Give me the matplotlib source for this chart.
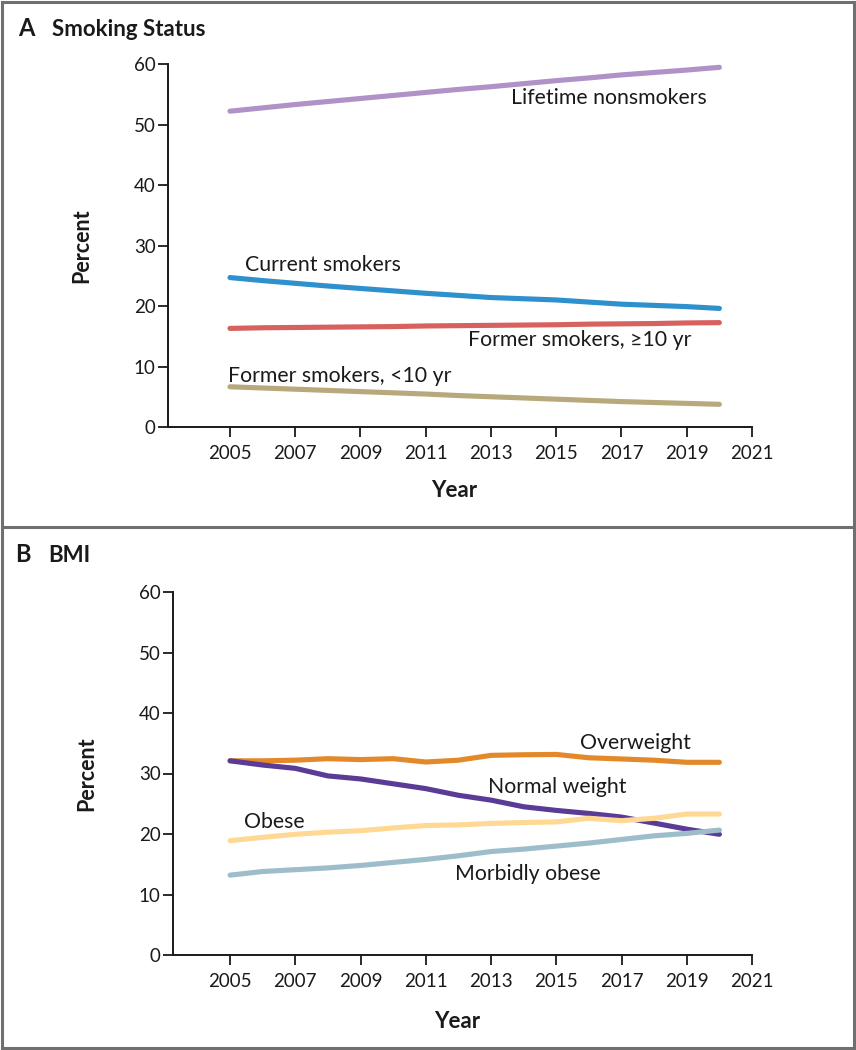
import matplotlib
matplotlib.use("Agg")
from matplotlib import pyplot as plt
from matplotlib.lines import Line2D
import numpy as np

plt.rcParams['font.family'] = ['Lato', 'DejaVu Sans']

years = list(range(2005, 2021))

# Panel A: smoking status (percent)
lifetime_nonsmokers = [52.2, 52.75, 53.3, 53.8, 54.3, 54.8, 55.3, 55.8, 56.25, 56.75, 57.25, 57.7, 58.2, 58.6, 59.0, 59.45]
current_smokers = [24.7, 24.2, 23.75, 23.3, 22.9, 22.5, 22.1, 21.75, 21.4, 21.2, 21.0, 20.65, 20.3, 20.1, 19.9, 19.6]
former_ge10 = [16.3, 16.4, 16.45, 16.5, 16.55, 16.6, 16.7, 16.75, 16.8, 16.85, 16.9, 17.0, 17.05, 17.1, 17.2, 17.25]
former_lt10 = [6.65, 6.45, 6.25, 6.05, 5.85, 5.65, 5.45, 5.2, 5.0, 4.8, 4.6, 4.4, 4.2, 4.05, 3.9, 3.75]

# Panel B: BMI (percent)
overweight = [32.1, 32.1, 32.2, 32.45, 32.3, 32.45, 31.9, 32.2, 33.0, 33.1, 33.15, 32.6, 32.4, 32.2, 31.85, 31.85]
normal_weight = [32.1, 31.4, 30.85, 29.6, 29.1, 28.3, 27.5, 26.4, 25.6, 24.5, 23.9, 23.4, 22.8, 21.8, 20.8, 19.95]
obese = [18.9, 19.45, 19.95, 20.3, 20.55, 21.0, 21.4, 21.5, 21.75, 21.9, 22.0, 22.6, 22.2, 22.6, 23.3, 23.3]
morbidly_obese = [13.2, 13.8, 14.1, 14.4, 14.8, 15.3, 15.8, 16.4, 17.1, 17.5, 18.0, 18.5, 19.1, 19.7, 20.1, 20.65]

xticks = list(range(2005, 2022, 2))
yticks = [0, 10, 20, 30, 40, 50, 60]

fig = plt.figure(figsize=(8.56, 10.5), dpi=100)
axA = fig.add_axes([168/856, 1-427/1050, (752-168)/856, 363/1050])
axB = fig.add_axes([173/856, 1-955/1050, (752-173)/856, 363/1050])

lw = 3.7
series_A = [
    (lifetime_nonsmokers, '#B091C8', 'Lifetime nonsmokers', 2013.6, 54.4),
    (current_smokers, '#2E90CD', 'Current smokers', 2005.46, 26.8),
    (former_ge10, '#D6615E', 'Former smokers, \u226510 yr', 2012.3, 14.4),
    (former_lt10, '#B8A97C', 'Former smokers, <10 yr', 2004.94, 8.4),
]
series_B = [
    (overweight, '#E3892A', 'Overweight', 2015.74, 35.0),
    (normal_weight, '#5A3B95', 'Normal weight', 2012.9, 27.8),
    (obese, '#FFD993', 'Obese', 2005.43, 22.0),
    (morbidly_obese, '#9DBDCA', 'Morbidly obese', 2011.9, 13.4),
]

for ax, series, xmin, ylab_y in [(axA, series_A, 2003.1, -0.145), (axB, series_B, 2003.25, -0.155)]:
    for vals, color, label, tx, ty in series:
        ax.plot(years, vals, color=color, lw=lw, solid_capstyle='round', solid_joinstyle='round')
        ax.text(tx, ty, label, fontsize=15.3, color='#1a1a1a', va='center', ha='left')
    ax.set_xlim(xmin, 2021)
    ax.set_ylim(0, 60)
    ax.set_xticks(xticks)
    ax.set_yticks(yticks)
    ax.spines['top'].set_visible(False)
    ax.spines['right'].set_visible(False)
    for s in ['left', 'bottom']:
        ax.spines[s].set_linewidth(1.4)
        ax.spines[s].set_color('#1a1a1a')
    ax.tick_params(axis='both', direction='out', length=7, width=1.3, color='#1a1a1a',
                   labelsize=13.5, labelcolor='#1a1a1a')
    ax.tick_params(axis='x', pad=6)
    ax.tick_params(axis='y', pad=2)
    ax.set_ylabel('Percent', fontsize=15.5, fontweight='bold', color='#1a1a1a')
    ax.set_xlabel('Year', fontsize=16, fontweight='bold', color='#1a1a1a')
    ax.yaxis.set_label_coords(-0.13, 0.5)
    ax.xaxis.set_label_coords(0.49, ylab_y)
    ax.patch.set_visible(False)

# panel titles
fig.text(18/856, 1-29/1050, 'A', fontsize=17, fontweight='bold', va='center', ha='left', color='#1a1a1a')
fig.text(52/856, 1-29/1050, 'Smoking Status', fontsize=16, fontweight='bold', va='center', ha='left', color='#1a1a1a')
fig.text(15/856, 1-555/1050, 'B', fontsize=17, fontweight='bold', va='center', ha='left', color='#1a1a1a')
fig.text(48/856, 1-555/1050, 'BMI', fontsize=16, fontweight='bold', va='center', ha='left', color='#1a1a1a')

# panel frames
frame_c = '#707070'
fw = 2.2
def fline(x0, y0, x1, y1):
    fig.add_artist(Line2D([x0/856, x1/856], [1-y0/1050, 1-y1/1050], color=frame_c, lw=fw,
                          transform=fig.transFigure))
fline(2, 1.5, 854, 1.5)
fline(2, 527, 854, 527)
fline(2, 1048, 854, 1048)
fline(2, 1.5, 2, 1048)
fline(854, 1.5, 854, 1048)

fig.savefig('out.png', dpi=100)
